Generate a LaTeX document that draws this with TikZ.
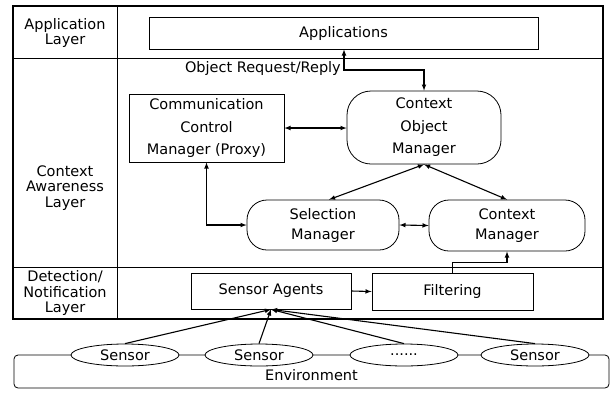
\documentclass[tikz,border=0pt]{standalone}
\usepackage{fontspec}
\setmainfont{DejaVu Sans}
\usetikzlibrary{positioning,arrows,calc,shapes.geometric}

\begin{document}
\begin{tikzpicture}[
x=1pt,y=-1pt,
every node/.style={
  font=\fontsize{14.5}{16}\selectfont
  },
layer/.style={
  align=center,
  font=\fontsize{14.5}{15.5}\selectfont
  },
box/.style={
  draw,
  line width=0.8pt,
  align=center,
  inner sep=0pt,
  font=\fontsize{14.5}{22.5}\selectfont
  },
rbox/.style={
  box,
  rounded corners=20pt
  },
sensor/.style={
  draw,
  ellipse,
  fill=white,
  line width=0.8pt,
  inner sep=0pt,
  minimum width=108pt,
  minimum height=22pt
  },
link/.style={
  line width=1.1pt
  },
>=latex
]
\useasboundingbox[fill=white] (0,0) rectangle (611,392);

% layers
\draw[line width=1.2pt] (13,6) rectangle (603,319);
\draw[line width=0.8pt] (117,6) -- (117,319);
\draw[line width=0.8pt] (13,58) -- (603,58);
\draw[line width=0.8pt] (13,267) -- (603,267);
\draw[line width=1.8pt] (13,319) -- (603,319);

\node[layer] (lapp) at (65,33) {Application\\Layer};
\node[layer] (lctx) at (65,188) {Context\\Awareness\\Layer};
\node[layer] (ldet) at (65,293) {Detection/\\Notification\\Layer};

% boxes
\node[box, minimum width=389pt, minimum height=32pt] (app) at (343.5,33) {Applications};
\node[box, minimum width=155pt, minimum height=68pt] (comm) at (206.5,128)
  {Communication\\Control\\Manager (Proxy)};
\node[box, rounded corners=24pt, minimum width=154pt, minimum height=73pt] (com) at (424,127.5)
  {Context\\Object\\Manager};
\node[rbox, minimum width=152pt, minimum height=50pt, font=\fontsize{14.5}{20}\selectfont] (sel) at (323,225)
  {Selection\\Manager};
\node[rbox, minimum width=156pt, minimum height=51pt, font=\fontsize{14.5}{20}\selectfont] (ctx) at (507,225.5)
  {Context\\Manager};
\node[box, minimum width=160pt, minimum height=36pt] (sa) at (271,291) {Sensor Agents};
\node[box, minimum width=161pt, minimum height=37pt] (filt) at (452.5,291.5) {Filtering};

% environment
\node[draw, line width=0.8pt, rounded corners=4pt, minimum width=595pt, minimum height=33pt,
  text depth=0pt, inner sep=0pt] (env) at (311.5,371.5) {\raisebox{-6pt}{Environment}};
\node[sensor] (s1) at (125,355) {Sensor};
\node[sensor] (s2) at (259,355) {Sensor};
\node[sensor] (s3) at (404,355) {......};
\node[sensor] (s4) at (535,355) {Sensor};

% connectors
\coordinate (req) at (344,70);
\draw[link,<->] (app.south -| req) -- (req) -| (com.north);
\node[anchor=east, inner sep=0pt] (reqlbl) at (341,68) {Object Request/Reply};

\draw[link,<->] (comm.east) -- (comm.east -| com.west);
\draw[link,<->] (com.south) -- ([xshift=6pt]sel.north);
\draw[link,<->] (com.south) -- (ctx.north);
\draw[link,<->] (comm.south) |- (sel.west);
\draw[link,<->] (sel.east) -- (ctx.west);
\draw[link,->] (sa.east) -- (filt.west);
\draw[link,->] (filt.north) |- ($(ctx.south)+(0,11)$) -- (ctx.south);

\foreach \s in {s1,s2,s3,s4}
  \draw[link,->] (\s.north) -- (sa.south);
\end{tikzpicture}
\end{document}
